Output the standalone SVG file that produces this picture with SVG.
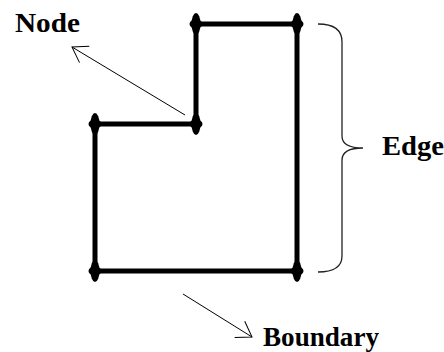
<svg xmlns="http://www.w3.org/2000/svg" xmlns:xlink="http://www.w3.org/1999/xlink" width="444" height="352" viewBox="0 0 444 352">
  <style>
    .edge { fill: none; stroke: #000; stroke-width: 5; stroke-linejoin: miter; }
    .arrow { fill: none; stroke: #000; stroke-width: 1; }
    .brace { fill: none; stroke: #222; stroke-width: 1.3; }
    .label { font-family: "Liberation Serif", "Times New Roman", serif; font-weight: bold; font-size: 27px; fill: #000; }
  </style>
  <defs>
    <g id="blob">
      <ellipse cx="0" cy="0" rx="4.5" ry="11" fill="#000"/>
      <ellipse cx="0" cy="0" rx="6.5" ry="4.5" fill="#000"/>
    </g>
    <marker id="head" markerUnits="userSpaceOnUse" viewBox="-16 -11 18 22" refX="0" refY="0" markerWidth="18" markerHeight="22" orient="auto" overflow="visible">
      <path d="M-14.5,-9.5 L0,0 L-14.5,9.5" fill="none" stroke="#000" stroke-width="1"/>
    </marker>
  </defs>
  <rect width="444" height="352" fill="#fff"/>

  <g id="connectors">
    <path id="boundary-edges" class="edge" d="M196,24 H297 V271 H95 V124 H196 Z"/>
    <path id="node-pointer" class="arrow" d="M185,115 L72,47" marker-end="url(#head)"/>
    <path id="boundary-pointer" class="arrow" d="M183,294 L252,337" marker-end="url(#head)"/>
    <path id="edge-brace" class="brace" d="M318,24 C334,24 342,30 342,42 V136 C342,144 348,148 363,148 C348,148 342,152 342,160 V256 C342,266 334,272 318,272"/>
  </g>

  <g id="node-top-left"><use xlink:href="#blob" x="196" y="24"/></g>
  <g id="node-top-right"><use xlink:href="#blob" x="297" y="24"/></g>
  <g id="node-middle"><use xlink:href="#blob" x="196" y="124"/></g>
  <g id="node-left"><use xlink:href="#blob" x="95" y="124"/></g>
  <g id="node-bottom-left"><use xlink:href="#blob" x="95" y="271"/></g>
  <g id="node-bottom-right"><use xlink:href="#blob" x="297" y="271"/></g>

  <g id="labels">
    <text class="label" x="15" y="32" textLength="65" lengthAdjust="spacingAndGlyphs">Node</text>
    <text class="label" x="382" y="155" textLength="62" lengthAdjust="spacingAndGlyphs">Edge</text>
    <text class="label" x="263" y="346" textLength="116" lengthAdjust="spacingAndGlyphs">Boundary</text>
  </g>
</svg>
